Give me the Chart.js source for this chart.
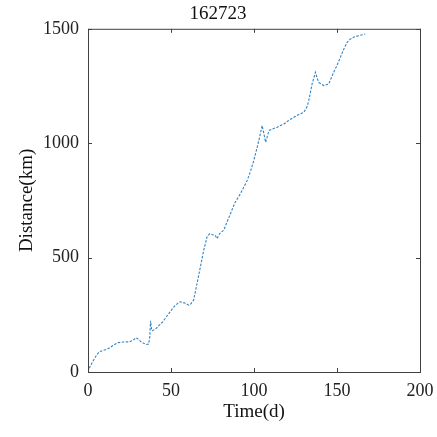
<!DOCTYPE html>
<html>
<head>
<meta charset="utf-8">
<script src="https://cdn.jsdelivr.net/npm/chart.js@4.4.1/dist/chart.umd.min.js"></script>
<style>
	html, body { margin: 0; padding: 0; background: #fff; }
	#wrap { width: 437px; height: 437px; }
</style>
</head>
<body>
<div id="wrap"><canvas id="myChart" width="437" height="437"></canvas></div>
<script>
// track 162723: cumulative distance over time
const days = [
	0, 1, 2.8, 5, 6.8, 9.9, 12, 13.9, 16, 17.9, 21, 25, 27, 29, 30.5, 32, 35, 36.5,
	37.2, 37.7, 38.3, 38.8, 41, 43, 45, 48, 51, 52.5, 54, 55.6, 57, 59, 60.6, 62,
	63.6, 65.7, 67.7, 69.7, 71.7, 73.3, 75, 76.7, 77.7, 79.3, 81.8, 84, 85.8, 88.5,
	91.8, 94, 95.9, 98, 99.9, 102, 102.9, 104.9, 106, 107, 109, 111, 114, 118, 121,
	124, 127, 130, 132, 133, 135, 137, 138, 139, 142, 145, 148, 150, 152, 154, 156,
	158, 160, 163, 167,
];
const distance = [
	0, 20, 45, 72, 89, 96, 102, 110, 120, 128, 131, 132, 138, 150, 142, 132, 120, 122,
	150, 224, 185, 180, 190, 205, 219, 249, 278, 290, 300, 307, 304, 300, 292, 298,
	314, 387, 459, 532, 590, 605, 600, 597, 583, 605, 620, 660, 692, 740,
	779, 810, 837, 880, 925, 985, 1012, 1077, 1040, 1004, 1055, 1062, 1070, 1084, 1100,
	1113, 1125, 1135, 1160, 1186, 1259, 1310, 1285, 1266, 1252, 1259, 1310, 1340, 1375, 1410, 1440,
	1455, 1463, 1470, 1477,
];
const xTicks = [0, 50, 100, 150, 200];
const yTicks = [0, 500, 1000, 1500];

const serif = "'Liberation Serif', 'Times New Roman', serif";
const axisColor = "#404040";

Chart.defaults.font.family = serif;
Chart.defaults.color = "#222";

// matlab-like box with inward tick marks
const boxPlugin = {
	id: "box",
	afterDraw(chart) {
		const { ctx, chartArea: a, scales } = chart;
		ctx.save();
		ctx.strokeStyle = axisColor;
		ctx.lineWidth = 1;
		ctx.strokeRect(a.left + 0.5, a.top + 0.5, a.right - a.left, a.bottom - a.top);
		const len = 4;
		ctx.beginPath();
		xTicks.forEach((v) => {
			const px = Math.round(scales.x.getPixelForValue(v)) + 0.5;
			ctx.moveTo(px, a.bottom);
			ctx.lineTo(px, a.bottom - len);
			ctx.moveTo(px, a.top);
			ctx.lineTo(px, a.top + len);
		});
		yTicks.forEach((v) => {
			const py = Math.round(scales.y.getPixelForValue(v)) + 0.5;
			ctx.moveTo(a.left, py);
			ctx.lineTo(a.left + len, py);
			ctx.moveTo(a.right, py);
			ctx.lineTo(a.right - len, py);
		});
		ctx.stroke();
		ctx.restore();
	},
};

const ctx = document.getElementById("myChart");
const myChart = new Chart(ctx, {
	type: "line",
	data: {
		datasets: [
			{
				data: days.map((d, i) => ({ x: d, y: distance[i] })),
				borderColor: "#3283c4",
				borderWidth: 1.1,
				borderDash: [2.5, 1.5],
				pointRadius: 0,
				tension: 0,
				fill: false,
			},
		],
	},
	plugins: [boxPlugin],
	options: {
		responsive: false,
		animation: false,
		layout: {
			padding: { left: 16, right: 17, top: 0, bottom: 14 },
		},
		plugins: {
			legend: { display: false },
			tooltip: { enabled: false },
			title: {
				display: true,
				text: "162723",
				color: "#111",
				font: { family: serif, size: 19, weight: "normal" },
				padding: { top: 3, bottom: 3 },
			},
		},
		scales: {
			x: {
				type: "linear",
				min: 0,
				max: 200,
				afterFit(scale) {
					scale.height = 51;
				},
				afterBuildTicks(scale) {
					scale.ticks = xTicks.map((v) => ({ value: v }));
				},
				grid: { display: false },
				border: { display: false },
				ticks: {
					color: "#222",
					padding: 0,
					maxRotation: 0,
					font: { family: serif, size: 18 },
					callback: (v) => String(v),
				},
				title: {
					display: true,
					text: "Time(d)",
					color: "#111",
					padding: 0,
					font: { family: serif, size: 19 },
				},
			},
			y: {
				min: 0,
				max: 1500,
				afterFit(scale) {
					scale.width = 72;
				},
				afterBuildTicks(scale) {
					scale.ticks = yTicks.map((v) => ({ value: v }));
				},
				grid: { display: false },
				border: { display: false },
				ticks: {
					color: "#222",
					padding: 1,
					font: { family: serif, size: 18 },
					callback: (v) => String(v),
				},
				title: {
					display: true,
					text: "Distance(km)",
					color: "#111",
					padding: 0,
					font: { family: serif, size: 19 },
				},
			},
		},
	},
});
</script>
</body>
</html>
